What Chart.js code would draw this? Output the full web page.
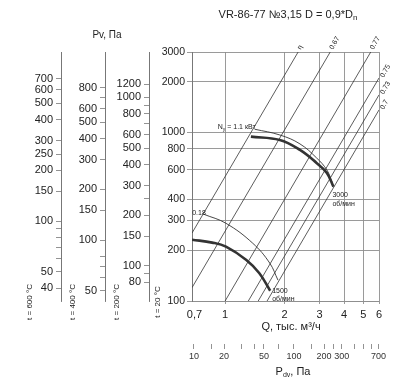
<!DOCTYPE html>
<html><head><meta charset="utf-8">
<script src="https://cdn.jsdelivr.net/npm/chart.js@4/dist/chart.umd.min.js"></script>
<style>html,body{margin:0;padding:0;background:#fff;}#wrap{width:416px;height:388px;}</style>
</head><body><div id="wrap"><canvas id="c" width="416" height="388"></canvas></div>
<script>
// ---------------- data ----------------
const qTicks = [0.7, 1, 2, 3, 4, 5, 6];
const p20Ticks = [100, 200, 300, 400, 600, 800, 1000, 2000, 3000];
const p200Ticks = [80, 90, 100, 150, 200, 250, 300, 400, 500, 600, 700, 800, 900, 1000, 1200];
const p200Labels = [80, 100, 150, 200, 300, 400, 500, 600, 800, 1000, 1200];
const p400Ticks = [50, 60, 70, 80, 100, 150, 200, 300, 400, 500, 600, 700, 800];
const p400Labels = [50, 100, 150, 200, 300, 400, 500, 600, 800];
const p600Ticks = [40, 50, 60, 70, 80, 90, 100, 150, 200, 250, 300, 400, 500, 600, 700];
const p600Labels = [40, 50, 100, 150, 200, 250, 300, 400, 500, 600, 700];
const pdvTicks = [10, 15, 20, 30, 40, 50, 70, 100, 150, 200, 250, 300, 400, 500, 600, 700];
const pdvLabels = [10, 20, 50, 100, 200, 300, 700];

const p20Range = [100, 3000];
const p200Range = [62, 1858];
const p400Range = [43.5, 1306];
const p600Range = [33.6, 1007];
const qRange = [0.68, 6];
const pdvRange = [9.55, 708];

// fan curves (Q, тыс. м3/ч ; Pv, Па)
const rpm3000Q = [1.35, 1.89, 2.39, 2.9, 3.27, 3.53];
const rpm3000P = [944, 902, 787, 659, 575, 476];
const pow11Q = [1.41, 1.89, 2.39, 2.9, 3.27, 3.47];
const pow11P = [1045, 966, 855, 706, 599, 508];
const rpm1500Q = [0.68, 0.86, 1.01, 1.28, 1.49, 1.69];
const rpm1500P = [231, 222, 210, 175, 146, 115];
const pow018Q = [0.78, 1.01, 1.38, 1.68, 1.85];
const pow018P = [327, 289, 220, 168, 133];

// efficiency rays: [Q start, Q end], [P start, P end]
const effLabels = ['η', '0.67', '0.77', '0.75', '0.73', '0.7'];
const effQ = [[0.68, 2.34], [0.68, 3.4], [1.0, 5.45], [1.31, 6], [1.47, 6], [1.63, 6]];
const effP = [[253, 3000], [120, 3000], [100, 3000], [100, 2104], [100, 1670], [100, 1360]];
const effLabelSide = ['top', 'top', 'top', 'right', 'right', 'right'];

// ---------------- chart ----------------
const FONT = "'Liberation Sans', Arial, sans-serif";
const GRID = '#8f8f8f';
const INK = '#222';

const pts = (qs, ps) => qs.map((q, i) => ({x: q, y: ps[i]}));
const datasets = [];
effQ.forEach((qq, i) => datasets.push({
  data: pts(qq, effP[i]), borderColor: '#333', borderWidth: 0.8, pointRadius: 0, tension: 0
}));
datasets.push({data: pts(pow11Q, pow11P), borderColor: '#333', borderWidth: 0.9, pointRadius: 0, tension: 0.4});
datasets.push({data: pts(rpm3000Q, rpm3000P), borderColor: '#333', borderWidth: 2.6, pointRadius: 0, tension: 0.4});
datasets.push({data: pts(pow018Q, pow018P), borderColor: '#333', borderWidth: 0.9, pointRadius: 0, tension: 0.4});
datasets.push({data: pts(rpm1500Q, rpm1500P), borderColor: '#333', borderWidth: 2.6, pointRadius: 0, tension: 0.4});

function auxAxis(range, ticks, labels, weight, width) {
  return {
    type: 'logarithmic', position: 'left', min: range[0], max: range[1], weight: weight,
    afterBuildTicks: s => { s.ticks = ticks.map(v => ({value: v})); },
    afterFit: s => { s.width = width; },
    ticks: {autoSkip: false, padding: 3, color: INK, font: {family: FONT, size: 11},
      callback: v => labels.includes(v) ? String(v) : ''},
    grid: {display: true, drawOnChartArea: false, drawTicks: true, tickLength: 5, color: '#777', lineWidth: 0.8},
    border: {display: true, color: '#777', width: 1}
  };
}

const textPlugin = {
  id: 'texts',
  afterDraw(chart) {
    const ctx = chart.ctx, xs = chart.scales.x, ys = chart.scales.y;
    ctx.save();
    ctx.fillStyle = INK;
    ctx.textBaseline = 'middle';
    // title
    ctx.font = `11px ${FONT}`;
    const t1 = 'VR-86-77 №3,15 D = 0,9*D';
    const w1 = ctx.measureText(t1).width;
    ctx.font = `8px ${FONT}`;
    const w2 = ctx.measureText('n').width;
    let x0 = 288 - (w1 + w2) / 2;
    ctx.font = `11px ${FONT}`; ctx.textAlign = 'left';
    ctx.fillText(t1, x0, 15);
    ctx.font = `8px ${FONT}`; ctx.fillText('n', x0 + w1, 18);
    // Pv label
    ctx.font = `10px ${FONT}`; ctx.textAlign = 'center';
    ctx.fillText('Pv, Па', 107, 35);
    // Q axis title
    ctx.font = `11px ${FONT}`;
    ctx.fillText('Q, тыс. м³/ч', 291, 327);
    // temperature labels (rotated)
    ctx.font = `8px ${FONT}`;
    [['t = 600 °C', 30], ['t = 400 °C', 73], ['t = 200 °C', 117], ['t = 20 °C', 158]].forEach(([s, x]) => {
      ctx.save(); ctx.translate(x, 302); ctx.rotate(-Math.PI / 2);
      ctx.textAlign = 'center'; ctx.fillText(s, 0, 0); ctx.restore();
    });
    // Pdv title
    const cx = 293;
    ctx.font = `11px ${FONT}`; ctx.textAlign = 'left';
    const wP = ctx.measureText('P').width;
    ctx.font = `7px ${FONT}`; const wd = ctx.measureText('dv').width;
    ctx.font = `11px ${FONT}`; const wr = ctx.measureText(', Па').width;
    let sx = cx - (wP + wd + wr) / 2;
    ctx.fillText('P', sx, 372);
    ctx.font = `7px ${FONT}`; ctx.fillText('dv', sx + wP, 375);
    ctx.font = `11px ${FONT}`; ctx.fillText(', Па', sx + wP + wd, 372);
    // efficiency labels
    ctx.font = `7px ${FONT}`;
    effLabels.forEach((lab, i) => {
      const q = effQ[i][1], p = effP[i][1];
      const px = xs.getPixelForValue(q), py = ys.getPixelForValue(p);
      ctx.save();
      if (effLabelSide[i] === 'top') ctx.translate(px + 1, py - 3);
      else ctx.translate(px + 3, py - 1);
      ctx.rotate(-Math.PI / 3);
      ctx.textAlign = 'left'; ctx.fillText(lab, 0, 0);
      ctx.restore();
    });
    // curve labels
    ctx.font = `7px ${FONT}`; ctx.textAlign = 'left';
    let ex = xs.getPixelForValue(rpm3000Q[rpm3000Q.length - 1]), ey = ys.getPixelForValue(rpm3000P[rpm3000P.length - 1]);
    ctx.fillText('3000', ex - 1, ey + 8);
    ctx.fillText('об/мин', ex - 1, ey + 17);
    ex = xs.getPixelForValue(rpm1500Q[rpm1500Q.length - 1]); ey = ys.getPixelForValue(rpm1500P[rpm1500P.length - 1]);
    ctx.fillText('1500', ex + 2, ey);
    ctx.fillText('об/мин', ex + 2, ey + 8);
    ex = xs.getPixelForValue(pow018Q[0]); ey = ys.getPixelForValue(pow018P[0]);
    ctx.textAlign = 'right'; ctx.fillText('0.18', ex + 2, ey - 1);
    ex = xs.getPixelForValue(pow11Q[0]); ey = ys.getPixelForValue(pow11P[0]);
    const tail = ' = 1.1 кВт';
    const wt = ctx.measureText(tail).width;
    ctx.fillText(tail, ex + 1, ey - 2);
    ctx.font = `5px ${FONT}`; const wy = ctx.measureText('у').width;
    ctx.fillText('у', ex + 1 - wt, ey);
    ctx.font = `7px ${FONT}`; ctx.fillText('N', ex + 1 - wt - wy, ey - 2);
    ctx.restore();
  }
};

new Chart(document.getElementById('c'), {
  type: 'scatter',
  data: {datasets: datasets.map(d => Object.assign({showLine: true, xAxisID: 'x', yAxisID: 'y', fill: false}, d))},
  options: {
    responsive: false, animation: false, devicePixelRatio: 1,
    layout: {padding: {top: 52, right: 37, bottom: 8, left: 0}},
    plugins: {legend: {display: false}, title: {display: false}, tooltip: {enabled: false}},
    font: {family: FONT},
    scales: {
      x: {
        type: 'logarithmic', position: 'bottom', min: qRange[0], max: qRange[1], weight: 0,
        afterBuildTicks: s => { s.ticks = qTicks.map(v => ({value: v})); },
        afterFit: s => { s.height = 43; },
        ticks: {autoSkip: false, maxRotation: 0, padding: 4, color: INK, font: {family: FONT, size: 11},
          callback: v => v === 0.7 ? '0,7' : String(v)},
        grid: {color: c => (c.tick && c.tick.value === 0.7) ? 'rgba(0,0,0,0)' : GRID, lineWidth: 0.9, tickLength: 3},
        border: {display: true, color: GRID},
        title: {display: false}
      },
      xP: {
        type: 'logarithmic', position: 'bottom', min: pdvRange[0], max: pdvRange[1], weight: 1,
        afterBuildTicks: s => { s.ticks = pdvTicks.map(v => ({value: v})); },
        afterFit: s => { s.height = 36; },
        ticks: {autoSkip: false, maxRotation: 0, padding: 2, color: '#333', font: {family: FONT, size: 9},
          callback: v => pdvLabels.includes(v) ? String(v) : ''},
        grid: {display: true, drawOnChartArea: false, drawTicks: true, tickLength: 5, color: '#777', lineWidth: 0.8},
        border: {display: false}
      },
      y: {
        type: 'logarithmic', position: 'left', min: p20Range[0], max: p20Range[1], weight: 0,
        afterBuildTicks: s => { s.ticks = p20Ticks.map(v => ({value: v})); },
        afterFit: s => { s.width = 43; },
        ticks: {autoSkip: false, padding: 2, color: INK, font: {family: FONT, size: 10.5}, callback: v => String(v)},
        grid: {color: GRID, lineWidth: 0.9, tickLength: 5},
        border: {display: true, color: '#777'}
      },
      y200: auxAxis(p200Range, p200Ticks, p200Labels, 1, 44),
      y400: auxAxis(p400Range, p400Ticks, p400Labels, 2, 44),
      y600: auxAxis(p600Range, p600Ticks, p600Labels, 3, 61)
    }
  },
  plugins: [textPlugin]
});
</script></body></html>
